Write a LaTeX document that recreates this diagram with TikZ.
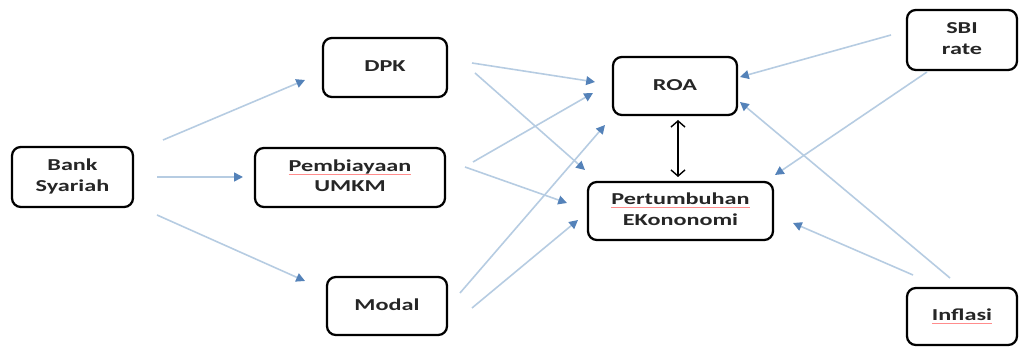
\documentclass[tikz,border=0pt]{standalone}
\usepackage{fontspec}
\usepackage{graphicx}
\setmainfont{Carlito}
\usetikzlibrary{arrows.meta,calc}
\definecolor{arrline}{RGB}{182,204,226}
\definecolor{arrhead}{RGB}{84,130,185}
\newcommand\wide[1]{\scalebox{1.45}[1]{\begin{tabular}{@{}c@{}}#1\end{tabular}}}
\newcommand\redul[1]{\setbox0\hbox{#1}\rlap{\copy0}\raisebox{-1.6pt}{\color{red!45}\rule{\wd0}{0.3pt}}}
\begin{document}
\begin{tikzpicture}[x=0.02cm,y=-0.02cm,
  box/.style={draw=black,line width=1.3pt,rounded corners=5pt,fill=white,
    font=\fontsize{9.5}{11.5}\selectfont\bfseries,text=black!85,align=center,inner sep=2pt},
  arr/.style={draw=arrline,line width=0.9pt,
    -{Triangle[length=5pt,width=5pt,color=arrhead]}},
  dbl/.style={draw=black,line width=0.8pt,
    {Straight Barb[length=3.5pt,width=8pt]}-{Straight Barb[length=3.5pt,width=8pt]}}]
\useasboundingbox (0,0) rectangle (1019,347);
\fill[white] (0,0) rectangle (1019,347);
% nodes
\node[box,minimum width=2.42cm,minimum height=1.2cm] (bank) at (72.5,177) {\wide{Bank\\Syariah}};
\node[box,minimum width=2.48cm,minimum height=1.18cm] (dpk) at (385,67.5) {\wide{DPK}};
\node[box,minimum width=3.8cm,minimum height=1.18cm] (pemb) at (350,177.5) {\wide{\redul{Pembiayaan}\\UMKM}};
\node[box,minimum width=2.4cm,minimum height=1.16cm] (modal) at (387,306) {\wide{Modal}};
\node[box,minimum width=2.48cm,minimum height=1.16cm] (roa) at (675,86) {\wide{ROA}};
\node[box,minimum width=3.7cm,minimum height=1.16cm] (pert) at (680.5,211) {\wide{\redul{Pertumbuhan}\\EKononomi}};
\node[box,minimum width=2.2cm,minimum height=1.2cm] (sbi) at (962,40) {\wide{SBI\\rate}};
\node[box,minimum width=2.2cm,minimum height=1.14cm] (infl) at (962,316.5) {\wide{\redul{Inflasi}}};
% connectors
\draw[arr] ($(bank.center)+(90.5,-37)$) -- ($(dpk.center)+(-80,12.5)$);
\draw[arr] ($(bank.center)+(84.5,0)$) -- ($(pemb.center)+(-107,-0.5)$);
\draw[arr] ($(bank.center)+(84.5,38)$) -- ($(modal.center)+(-82,-25)$);
\draw[arr] ($(dpk.center)+(87,-4.5)$) -- ($(roa.center)+(-80,-4)$);
\draw[arr] ($(dpk.center)+(90,5.5)$) -- ($(pert.center)+(-95.5,-41)$);
\draw[arr] ($(pemb.center)+(123,-15.5)$) -- ($(roa.center)+(-82,7)$);
\draw[arr] ($(pemb.center)+(115,-10.5)$) -- ($(pert.center)+(-113.5,-8)$);
\draw[arr] ($(modal.center)+(73,-13)$) -- ($(roa.center)+(-70,39)$);
\draw[arr] ($(modal.center)+(85,2)$) -- ($(pert.center)+(-102.5,9)$);
\draw[arr] ($(sbi.center)+(-71,-5)$) -- ($(roa.center)+(65,-9)$);
\draw[arr] ($(sbi.center)+(-35,32)$) -- ($(pert.center)+(94.5,-36)$);
\draw[arr] ($(infl.center)+(-12,-38.5)$) -- ($(roa.center)+(65,16)$);
\draw[arr] ($(infl.center)+(-49,-41.5)$) -- ($(pert.center)+(112.5,12)$);
\draw[dbl] ($(roa.center)+(3,34)$) -- ($(pert.center)+(-2.5,-34)$);
\end{tikzpicture}
\end{document}
